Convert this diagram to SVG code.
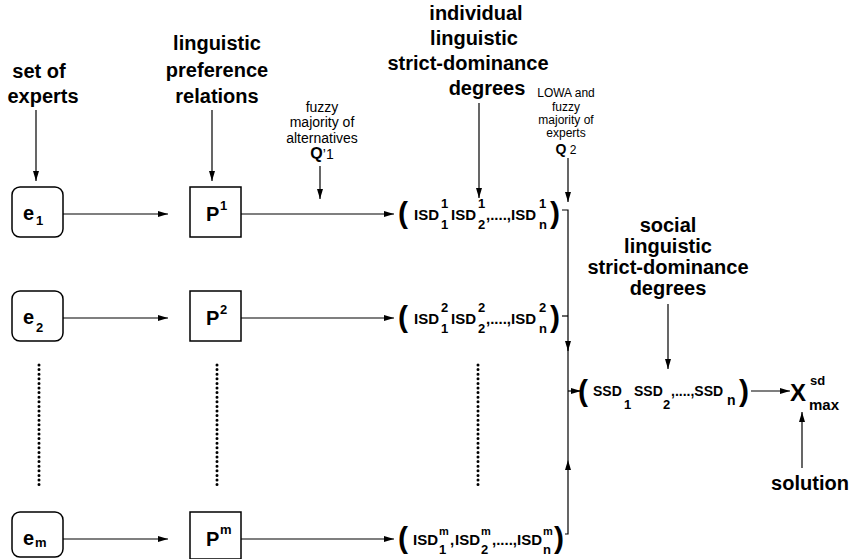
<svg xmlns="http://www.w3.org/2000/svg" width="853" height="559" viewBox="0 0 853 559">
<style>
text{font-family:"Liberation Sans",Arial,sans-serif;fill:#000}
.lb{font-size:20px;font-weight:bold;text-anchor:middle}
.sm{font-size:14px;text-anchor:middle}
.sm2{font-size:12px;text-anchor:middle}
.nm{font-size:20px;font-weight:bold}
.sub{font-size:13px;font-weight:bold}
.subm{font-size:11px;font-weight:bold}
.isd{font-size:15px;font-weight:bold}
.ssd{font-size:14px;font-weight:bold}
.br{font-size:30px;font-weight:bold}
.box{fill:#fff;stroke:#000;stroke-width:1.5}
.ln{fill:none;stroke:#000;stroke-width:1.2}
.dots{fill:none;stroke:#000;stroke-width:3;stroke-linecap:round;stroke-dasharray:0 4.6}
</style>
<defs>
<marker id="ah" viewBox="0 0 10 6" refX="10" refY="3" markerWidth="10" markerHeight="6" markerUnits="userSpaceOnUse" orient="auto">
<path d="M0,0 L10,3 L0,6 z" fill="#000"/>
</marker>
</defs>
<rect width="853" height="559" fill="#fff"/>

<g id="label-experts">
<text class="lb" x="39" y="78">set of</text>
<text class="lb" x="43" y="103">experts</text>
</g>
<g id="label-prefs">
<text class="lb" x="217" y="50">linguistic</text>
<text class="lb" x="217" y="77">preference</text>
<text class="lb" x="217" y="103">relations</text>
</g>
<g id="label-q1">
<text class="sm" x="322" y="112">fuzzy</text>
<text class="sm" x="322" y="127">majority of</text>
<text class="sm" x="322" y="143">alternatives</text>
<text class="sm" x="322" y="159"><tspan font-weight="bold" font-size="16">Q</tspan>’1</text>
</g>
<g id="label-isd">
<text class="lb" x="476" y="20">individual</text>
<text class="lb" x="474" y="45">linguistic</text>
<text class="lb" x="468" y="70">strict-dominance</text>
<text class="lb" x="487" y="95">degrees</text>
</g>
<g id="label-q2">
<text class="sm2" x="566" y="97">LOWA and</text>
<text class="sm2" x="566" y="111">fuzzy</text>
<text class="sm2" x="566" y="124">majority of</text>
<text class="sm2" x="566" y="137">experts</text>
<text class="sm2" x="566" y="154"><tspan font-weight="bold" font-size="14">Q</tspan> 2</text>
</g>
<g id="label-ssd">
<text class="lb" x="668" y="232">social</text>
<text class="lb" x="668" y="253">linguistic</text>
<text class="lb" x="668" y="274">strict-dominance</text>
<text class="lb" x="668" y="295">degrees</text>
</g>
<g id="label-solution">
<text class="lb" x="810" y="490">solution</text>
</g>

<g id="node-e1">
<rect class="box" x="12" y="187" width="51" height="50" rx="8"/>
<text class="nm" x="23" y="220">e</text><text class="sub" x="36" y="225">1</text>
</g>
<g id="node-e2">
<rect class="box" x="12" y="291" width="51" height="50" rx="8"/>
<text class="nm" x="23" y="324">e</text><text class="sub" x="36" y="332">2</text>
</g>
<g id="node-em">
<rect class="box" x="12" y="512" width="51" height="45" rx="8"/>
<text class="nm" x="23" y="545">e</text><text class="sub" x="35" y="547">m</text>
</g>

<g id="node-p1">
<rect class="box" x="190" y="187" width="51" height="50"/>
<text class="nm" x="206" y="221">P</text><text class="sub" x="220" y="210">1</text>
</g>
<g id="node-p2">
<rect class="box" x="190" y="291" width="51" height="50"/>
<text class="nm" x="206" y="325">P</text><text class="sub" x="220" y="314">2</text>
</g>
<g id="node-pm">
<rect class="box" x="190" y="512" width="51" height="47"/>
<text class="nm" x="206" y="546">P</text><text class="sub" x="220" y="534">m</text>
</g>

<g id="node-isd1">
<text class="br" x="398" y="223">(</text>
<text class="isd" x="414" y="220">ISD</text><text class="sub" x="441" y="208">1</text><text class="sub" x="441" y="229">1</text>
<text class="isd" x="451" y="220">ISD</text><text class="sub" x="478" y="208">1</text><text class="sub" x="478" y="229">2</text>
<text class="isd" x="486" y="220">,....,ISD</text><text class="sub" x="539" y="208">1</text><text class="sub" x="539" y="229">n</text>
<text class="br" x="550" y="223">)</text>
</g>
<g id="node-isd2">
<text class="br" x="398" y="327">(</text>
<text class="isd" x="414" y="324">ISD</text><text class="sub" x="441" y="312">2</text><text class="sub" x="441" y="333">1</text>
<text class="isd" x="451" y="324">ISD</text><text class="sub" x="478" y="312">2</text><text class="sub" x="478" y="333">2</text>
<text class="isd" x="486" y="324">,....,ISD</text><text class="sub" x="539" y="312">2</text><text class="sub" x="539" y="333">n</text>
<text class="br" x="550" y="327">)</text>
</g>
<g id="node-isdm">
<text class="br" x="398" y="548">(</text>
<text class="isd" x="413" y="545">ISD</text><text class="subm" x="439" y="535">m</text><text class="sub" x="439" y="554">1</text><text class="isd" x="450" y="545">,</text>
<text class="isd" x="455" y="545">ISD</text><text class="subm" x="481" y="535">m</text><text class="sub" x="481" y="554">2</text>
<text class="isd" x="492" y="545">,....,ISD</text><text class="subm" x="543" y="535">m</text><text class="sub" x="543" y="554">n</text>
<text class="br" x="554" y="548">)</text>
</g>

<g id="node-ssd">
<text class="br" x="578" y="401">(</text>
<text class="ssd" x="593" y="396">SSD</text><text class="sub" x="624" y="409">1</text>
<text class="ssd" x="634" y="396">SSD</text><text class="sub" x="663" y="409">2</text>
<text class="ssd" x="671" y="396">,....,SSD</text><text class="ssd" x="727" y="405">n</text>
<text class="br" x="739" y="401">)</text>
</g>
<g id="node-xmax">
<text x="790" y="401" font-size="24" font-weight="bold">X</text>
<text class="sub" x="810" y="385">sd</text>
<text x="809" y="410" font-size="15" font-weight="bold">max</text>
</g>

<g id="dots">
<line class="dots" x1="39" y1="365" x2="39" y2="488"/>
<line class="dots" x1="217" y1="365" x2="217" y2="488"/>
<line class="dots" x1="478" y1="365" x2="478" y2="488"/>
</g>

<g id="connectors">
<line class="ln" x1="36" y1="110" x2="36" y2="181" marker-end="url(#ah)"/>
<line class="ln" x1="212" y1="110" x2="212" y2="181" marker-end="url(#ah)"/>
<line class="ln" x1="320" y1="166" x2="320" y2="199" marker-end="url(#ah)"/>
<line class="ln" x1="479" y1="103" x2="479" y2="198" marker-end="url(#ah)"/>
<line class="ln" x1="568" y1="158" x2="568" y2="202" marker-end="url(#ah)"/>
<line class="ln" x1="668" y1="304" x2="668" y2="369" marker-end="url(#ah)"/>
<line class="ln" x1="802" y1="468" x2="802" y2="412" marker-end="url(#ah)"/>

<line class="ln" x1="63" y1="214" x2="168" y2="214" marker-end="url(#ah)"/>
<line class="ln" x1="63" y1="318" x2="168" y2="318" marker-end="url(#ah)"/>
<line class="ln" x1="63" y1="539" x2="168" y2="539" marker-end="url(#ah)"/>
<line class="ln" x1="241" y1="214" x2="394" y2="214" marker-end="url(#ah)"/>
<line class="ln" x1="241" y1="318" x2="394" y2="318" marker-end="url(#ah)"/>
<line class="ln" x1="241" y1="539" x2="394" y2="539" marker-end="url(#ah)"/>

<polyline class="ln" points="562,210 568,210 568,351" marker-end="url(#ah)"/>
<line class="ln" x1="562" y1="316" x2="568" y2="316"/>
<line class="ln" x1="568" y1="348" x2="568" y2="460"/>
<polyline class="ln" points="565,534 568,534 568,460" marker-end="url(#ah)"/>
<line class="ln" x1="568" y1="391" x2="581" y2="391" marker-end="url(#ah)"/>
<line class="ln" x1="751" y1="391" x2="790" y2="391" marker-end="url(#ah)"/>
</g>
</svg>
